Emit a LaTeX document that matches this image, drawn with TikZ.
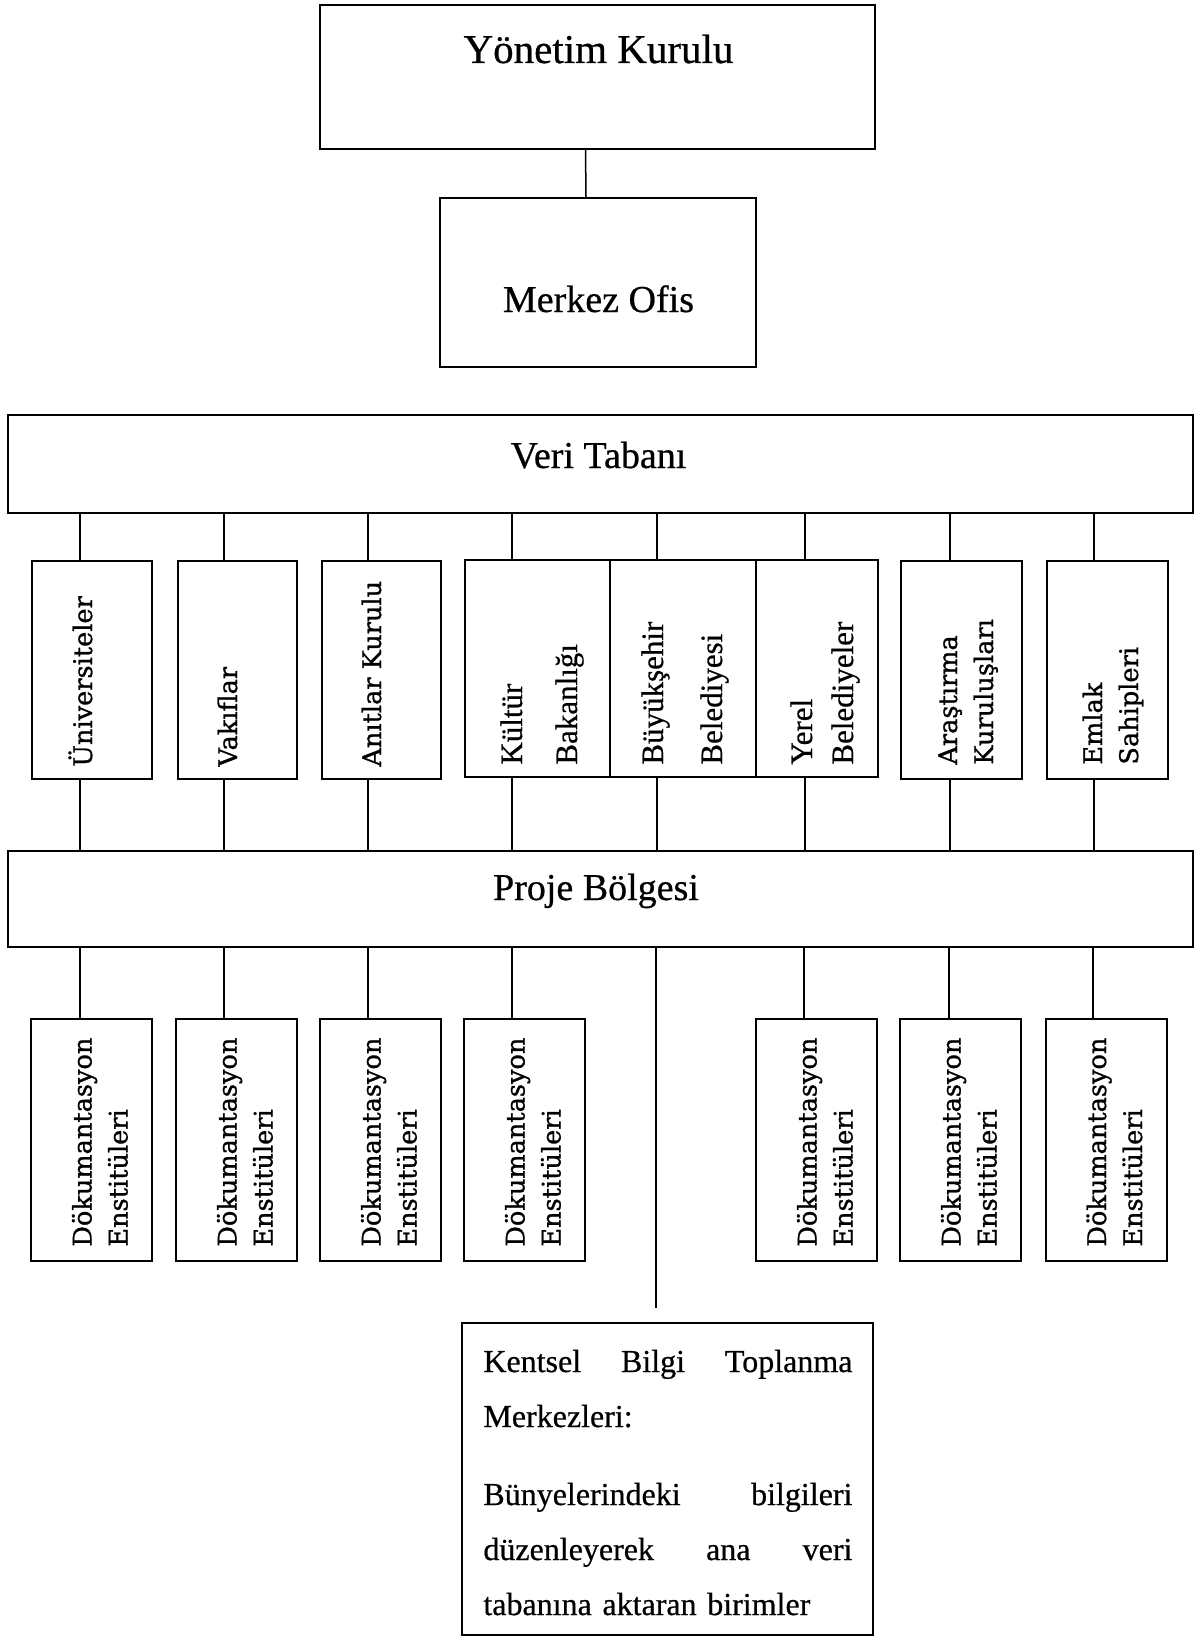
\documentclass[tikz,border=0pt]{standalone}
\usepackage{fontspec}
\setmainfont{Liberation Serif}[FakeBold=0.6]
\newfontfamily\schfont{DejaVu Serif}[FakeBold=1]
\tikzset{
  orgbox/.style={draw, line width=1pt, inner sep=0pt, rectangle},
  link/.style={line width=0.75pt},
  sidetext/.style={rotate=90, anchor=base west, inner sep=0pt, font=\schfont\fontsize{12.8pt}{15pt}\selectfont},
  thintext/.style={rotate=90, anchor=base west, inner sep=0pt, font=\fontsize{15.5pt}{18pt}\selectfont},
  titletext/.style={anchor=base, inner sep=0pt, font=\fontsize{19pt}{22pt}\selectfont}
}
\begin{document}
\begin{tikzpicture}[x=0.5pt, y=-0.5pt]
\useasboundingbox (0,0) rectangle (1195,1637);
% top of the chart
\node[orgbox, minimum width=277.5pt, minimum height=72pt] (yk) at (597.5,77) {};
\node[titletext, font=\fontsize{20.5pt}{24pt}\selectfont] (yk-t) at (598.5,63) {Yönetim Kurulu};
\node[orgbox, minimum width=158pt, minimum height=84.5pt] (mo) at (598,282.5) {};
\node[titletext] (mo-t) at (598.5,312) {Merkez Ofis};
\draw[link] ([xshift=-6pt]yk.south) -- ([xshift=-6pt]mo.north);
\node[orgbox, minimum width=592.5pt, minimum height=49pt] (vt) at (600.5,464) {};
\node[titletext] (vt-t) at (598.5,468) {Veri Tabanı};
% institutions
\node[orgbox, minimum width=60pt, minimum height=109pt] (un) at (92,670) {};
\node[sidetext] (un-t) at (92,767) {Üniversiteler};
\node[orgbox, minimum width=59.5pt, minimum height=109pt] (vk) at (237.5,670) {};
\node[sidetext] (vk-t) at (237,767) {Vakıflar};
\node[orgbox, minimum width=59.5pt, minimum height=109pt] (ak) at (381.5,670) {};
\node[sidetext] (ak-t) at (381,767) {Anıtlar Kurulu};
\node[orgbox, minimum width=72.5pt, minimum height=108.5pt] (kb) at (537.5,668.5) {};
\node[thintext] (kb-t1) at (522,765) {Kültür};
\node[thintext] (kb-t2) at (577,765) {Bakanlığı};
\node[orgbox, minimum width=73pt, minimum height=108.5pt] (bb) at (683,668.5) {};
\node[thintext] (bb-t1) at (663,765) {Büyükşehir};
\node[thintext] (bb-t2) at (722,765) {Belediyesi};
\node[orgbox, minimum width=61pt, minimum height=108.5pt] (yb) at (817,668.5) {};
\node[thintext] (yb-t1) at (812,765) {Yerel};
\node[thintext] (yb-t2) at (853,765) {Belediyeler};
\node[orgbox, minimum width=60.5pt, minimum height=109pt] (ar) at (961.5,670) {};
\node[sidetext] (ar-t1) at (957,765) {Araştırma};
\node[sidetext] (ar-t2) at (993,765) {Kuruluşları};
\node[orgbox, minimum width=60.5pt, minimum height=109pt] (es) at (1107.5,670) {};
\node[sidetext] (es-t1) at (1102,765) {Emlak};
\node[sidetext] (es-t2) at (1138,765) {Sahipleri};
\node[orgbox, minimum width=592.5pt, minimum height=48pt] (pb) at (600.5,899) {};
\node[titletext] (pb-t) at (596,900) {Proje Bölgesi};
\foreach \x/\a in {80/un, 224/vk, 368/ak, 512/kb, 657/bb, 805/yb, 950/ar, 1094/es}
{
  \draw[link] (vt.south -| \x,0) -- (\a.north -| \x,0);
  \draw[link] (\a.south -| \x,0) -- (pb.north -| \x,0);
}
% documentation institutes
\foreach \i/\x/\c in {1/91.5/80, 2/236.5/224, 3/380.5/368, 4/524.5/512, 5/816.5/804, 6/960.5/949, 7/1106/1093}
{
  \node[orgbox, minimum width=60.5pt, minimum height=121pt] (d\i) at (\x,1140) {};
  \node[sidetext] (d\i-a) at (\x,1247) {Dökumantasyon};
  \node[sidetext] (d\i-b) at (\x+36,1247) {Enstitüleri};
  \draw[link] (pb.south -| \c,0) -- (d\i.north -| \c,0);
}
% urban information centres
\coordinate (kend) at (656,1308);
\draw[link] (pb.south -| kend) -- (kend);
\node[orgbox, minimum width=205.5pt, minimum height=156pt] (kt) at (667.5,1479) {};
\node[anchor=base west, inner sep=0pt, text width=184.5pt, align=left,
  font=\fontsize{16pt}{27.5pt}\selectfont] (kt-t) at (483,1372)
  {Kentsel\hfill Bilgi\hfill Toplanma\\
   Merkezleri:\\[11.5pt]
   Bünyelerindeki\hfill bilgileri\\
   düzenleyerek\hfill ana\hfill veri\\
   tabanına aktaran birimler};
\end{tikzpicture}
\end{document}
